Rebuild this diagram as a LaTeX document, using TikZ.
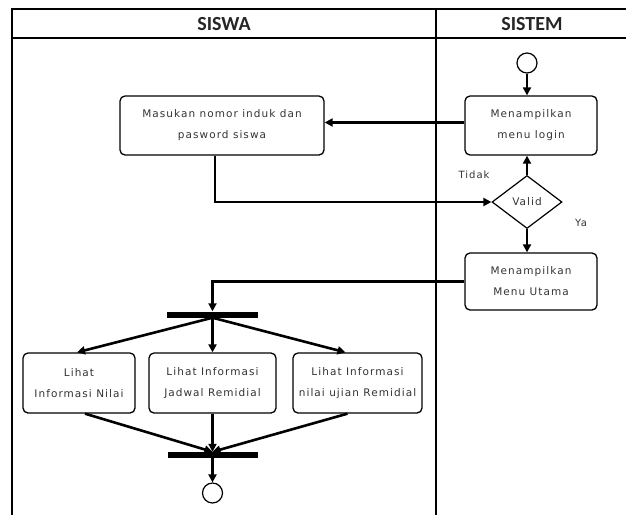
\documentclass[tikz,border=0pt]{standalone}
\usepackage{fontspec}
\newfontfamily\boxfont{DejaVu Sans}[LetterSpace=10]
\newfontfamily\headfont{Carlito}
\usetikzlibrary{positioning, shapes.geometric, arrows.meta}

\begin{document}
\begin{tikzpicture}[x=1pt, y=-1pt,
    activity/.style={rectangle, draw, line width=1.3pt, rounded corners=5pt, align=center, inner sep=0pt, minimum height=59pt, text=black!80, font=\boxfont\fontsize{10.5}{21}\selectfont},
    flow/.style={-{Triangle[length=8pt, width=8pt]}, line width=2.6pt},
    syncbar/.style={rectangle, fill=black, inner sep=0pt, minimum height=6pt},
    endpoint/.style={circle, draw, line width=1.2pt, minimum size=20pt, inner sep=0pt},
    lane/.style={line width=1.5pt},
    lanehead/.style={font=\headfont\bfseries\fontsize{20}{24}\selectfont, text=black!85}]
    \useasboundingbox (0,0) rectangle (626,515);

    % Swimlanes
    \draw [lane] (628,9) -- (12,9) -- (12,515);
    \draw [lane] (12,38) -- (628,38);
    \draw [lane] (436,9) -- (436,515);
    \node [lanehead] (siswa) at (224,24) {SISWA};
    \node [lanehead] (sistem) at (532,24) {SISTEM};

    % Nodes
    \node [endpoint] (start) at (527,63) {};
    \node [activity, minimum width=132pt] (login) at (531,125.5) {Menampilkan\\menu login};
    \node [activity, minimum width=204pt] (masukan) at (222,125.5) {Masukan nomor induk dan\\pasword siswa};
    \node [diamond, draw, line width=1.2pt, minimum width=70pt, minimum height=53pt, inner sep=0pt, text=black!80, font=\boxfont\fontsize{10.5}{12}\selectfont] (valid) at (527,202) {Valid};
    \node [activity, minimum width=132pt, minimum height=57pt] (utama) at (531,281.5) {Menampilkan\\Menu Utama};
    \node [syncbar, minimum width=91pt] (fork) at (212.5,314.5) {};
    \node [activity, minimum width=112pt, minimum height=60pt] (nilai) at (79,383) {Lihat\\Informasi Nilai};
    \node [activity, minimum width=127pt, minimum height=60pt] (jadwal) at (212.5,383) {Lihat Informasi\\Jadwal Remidial};
    \node [activity, minimum width=129pt, minimum height=60pt] (ujian) at (357.5,383) {Lihat Informasi\\nilai ujian Remidial};
    \node [syncbar, minimum width=90pt] (join) at (212.5,455) {};
    \node [endpoint] (finish) at (212.5,493) {};

    % Labels
    \node [text=black!80, font=\boxfont\fontsize{10}{12}\selectfont] (tidak) at (474,175) {Tidak};
    \node [text=black!80, font=\boxfont\fontsize{10}{12}\selectfont] (ya) at (581,223) {Ya};

    % Arrows
    \draw [flow] (start) -- (start |- login.north);
    \draw [flow] ([yshift=3pt]login.west) -- ([yshift=3pt]masukan.east);
    \draw [flow] ([xshift=-7pt]masukan.south) |- (valid.west);
    \draw [flow] (valid.north) -- (valid.north |- login.south);
    \draw [flow] (valid.south) -- (valid.south |- utama.north);
    \draw [flow] (utama.west) -| (fork.north);
    \draw [flow] (fork.south) -- ([xshift=-2pt]nilai.north);
    \draw [flow] (fork.south) -- (jadwal.north);
    \draw [flow] (fork.south) -- ([xshift=-12pt]ujian.north);
    \draw [flow] ([xshift=6pt]nilai.south) -- (join.north);
    \draw [flow] (jadwal.south) -- (join.north);
    \draw [flow] ([xshift=-10pt]ujian.south) -- (join.north);
    \draw [flow] (join.south) -- (finish.north);
\end{tikzpicture}
\end{document}
